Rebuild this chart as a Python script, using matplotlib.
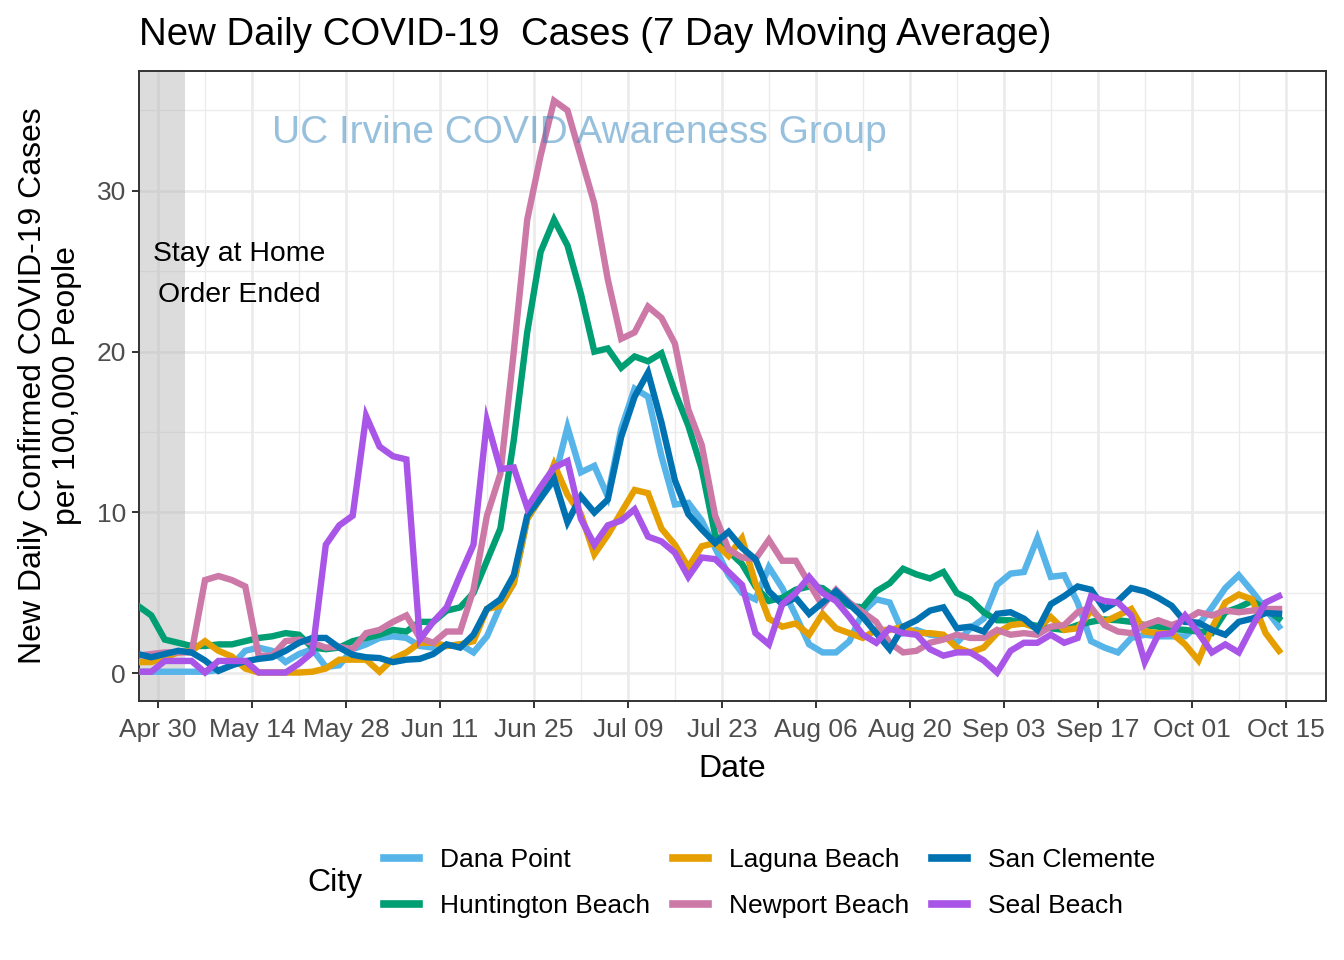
import matplotlib
matplotlib.use('Agg')
import matplotlib.pyplot as plt
import matplotlib.dates as mdates
from matplotlib.lines import Line2D
import pandas as pd

plt.rcParams['font.family'] = ['Liberation Sans', 'DejaVu Sans']

# 7 day moving average, read every 2 days from Apr 27
dates = pd.date_range('2020-04-27', periods=86, freq='2D')

dana_point = [0.1, 0.1, 0.1, 0.1, 0.1, 0.1, 0.2, 0.5, 1.4, 1.6,
              1.4, 0.7, 1.2, 1.5, 0.4, 0.5, 1.5, 1.8, 2.2, 2.3,
              2.2, 1.7, 1.6, 1.7, 1.8, 1.3, 2.3, 4.2, 5.6, 9.6,
              10.9, 12.0, 15.3, 12.5, 12.9, 11.0, 15.2, 17.7, 17.2, 13.5,
              10.5, 10.6, 9.5, 7.8, 6.1, 5.0, 4.6, 6.6, 5.3, 3.6,
              1.8, 1.3, 1.3, 2.0, 3.8, 4.6, 4.4, 2.5, 2.7, 2.4,
              2.3, 1.9, 2.8, 3.4, 5.5, 6.2, 6.3, 8.4, 6.0, 6.1,
              4.4, 2.0, 1.6, 1.3, 2.2, 2.4, 2.3, 2.3, 2.3, 3.0,
              4.1, 5.3, 6.1, 5.1, 4.0, 2.9]
huntington_beach = [4.2, 3.6, 2.1, 1.9, 1.7, 1.7, 1.8, 1.8, 2.0, 2.2,
                    2.3, 2.5, 2.4, 1.6, 1.5, 1.6, 2.0, 2.2, 2.4, 2.7,
                    2.6, 3.2, 3.2, 3.9, 4.1, 5.0, 7.0, 9.0, 14.5, 21.2,
                    26.2, 28.2, 26.6, 23.6, 20.0, 20.2, 19.0, 19.7, 19.4, 19.9,
                    17.5, 15.4, 12.7, 8.6, 7.6, 6.8, 5.4, 4.5, 4.7, 5.2,
                    5.4, 5.3, 4.7, 4.2, 4.1, 5.1, 5.6, 6.5, 6.15, 5.9,
                    6.3, 5.0, 4.6, 3.8, 3.3, 3.3, 3.1, 2.95, 2.8, 2.7,
                    3.0, 3.2, 3.35, 3.3, 3.2, 3.0, 2.9, 2.75, 2.7, 2.6,
                    2.5, 3.8, 4.1, 4.5, 4.0, 3.4]
laguna_beach = [0.7, 0.7, 1.0, 1.3, 1.4, 2.0, 1.4, 1.05, 0.3, 0.05,
                0.05, 0.05, 0.05, 0.1, 0.3, 0.85, 0.85, 0.85, 0.1, 0.9,
                1.3, 1.9, 1.9, 1.7, 1.8, 2.0, 4.0, 4.2, 5.6, 9.6,
                10.9, 13.0, 11.1, 9.9, 7.4, 8.6, 10.0, 11.4, 11.2, 9.0,
                8.0, 6.6, 7.9, 8.1, 7.3, 8.4, 5.6, 3.4, 2.9, 3.1,
                2.4, 3.7, 2.8, 2.5, 2.2, 2.7, 2.7, 2.9, 2.5, 2.5,
                2.4, 1.6, 1.3, 1.6, 2.5, 3.0, 3.1, 2.8, 3.5, 2.7,
                2.8, 3.9, 3.2, 3.6, 4.0, 2.6, 2.5, 2.5, 1.8, 0.8,
                2.8, 4.4, 4.9, 4.6, 2.5, 1.4]
newport_beach = [1.1, 1.2, 1.3, 1.3, 1.3, 5.8, 6.05, 5.8, 5.4, 1.1,
                 1.1, 2.0, 2.1, 1.9, 1.6, 1.65, 1.5, 2.5, 2.7, 3.2,
                 3.6, 2.2, 1.9, 2.6, 2.6, 5.2, 9.8, 12.4, 20.0, 28.2,
                 32.2, 35.6, 35.0, 32.1, 29.2, 24.5, 20.8, 21.2, 22.8, 22.1,
                 20.5, 16.4, 14.2, 9.8, 7.7, 7.2, 7.1, 8.3, 7.0, 7.0,
                 5.6, 4.2, 5.2, 4.4, 3.8, 3.2, 1.9, 1.3, 1.4, 1.9,
                 2.1, 2.4, 2.2, 2.2, 2.7, 2.4, 2.5, 2.4, 2.9, 3.0,
                 3.8, 4.1, 3.0, 2.6, 2.5, 3.0, 3.3, 3.0, 3.3, 3.8,
                 3.6, 3.9, 3.8, 3.9, 4.0, 4.0]
san_clemente = [1.2, 1.0, 1.2, 1.4, 1.3, 0.8, 0.15, 0.5, 0.75, 0.9,
                1.0, 1.4, 1.9, 2.2, 2.2, 1.6, 1.15, 1.0, 0.95, 0.7,
                0.85, 0.9, 1.2, 1.8, 1.6, 2.4, 4.0, 4.6, 6.1, 9.8,
                10.9, 12.1, 9.4, 11.0, 10.0, 10.8, 14.7, 17.2, 18.7, 15.6,
                12.0, 9.9, 8.95, 8.1, 8.8, 7.8, 7.1, 5.1, 4.3, 4.7,
                3.7, 4.4, 5.1, 4.3, 3.5, 2.5, 1.5, 2.9, 3.3, 3.9,
                4.1, 2.8, 2.9, 2.6, 3.7, 3.8, 3.4, 2.7, 4.3, 4.8,
                5.4, 5.2, 4.0, 4.5, 5.3, 5.1, 4.7, 4.2, 3.2, 3.15,
                2.7, 2.4, 3.2, 3.4, 3.75, 3.7]
seal_beach = [0.1, 0.1, 0.77, 0.77, 0.77, 0.05, 0.77, 0.77, 0.77, 0.05,
              0.05, 0.05, 0.6, 1.3, 8.0, 9.2, 9.8, 16.0, 14.1, 13.5,
              13.3, 2.1, 3.2, 4.1, 6.1, 8.0, 15.7, 12.7, 12.8, 10.3,
              11.6, 12.8, 13.2, 9.6, 8.0, 9.2, 9.5, 10.2, 8.5, 8.2,
              7.5, 6.0, 7.2, 7.1, 6.3, 5.5, 2.5, 1.8, 4.3, 5.0,
              6.0, 5.0, 4.5, 3.5, 2.4, 1.9, 2.8, 2.5, 2.4, 1.5,
              1.1, 1.3, 1.3, 0.8, 0.05, 1.4, 1.9, 1.9, 2.4, 1.9,
              2.2, 4.8, 4.5, 4.4, 3.6, 0.7, 2.4, 2.5, 3.6, 2.5,
              1.3, 1.8, 1.3, 2.9, 4.4, 4.8]

cities = ['Dana Point', 'Huntington Beach', 'Laguna Beach',
          'Newport Beach', 'San Clemente', 'Seal Beach']
series = [dana_point, huntington_beach, laguna_beach,
          newport_beach, san_clemente, seal_beach]
colors = ['#56B4E9', '#009E73', '#E69F00', '#CC79A7', '#0072B2', '#A855E8']

tick_dates = pd.date_range('2020-04-30', '2020-10-15', freq='14D')
y_ticks = [0, 10, 20, 30]

W, H = 1344, 960
fig = plt.figure(figsize=(W / 100, H / 100), dpi=100)
ax = fig.add_axes([139 / W, 259 / H, 1187 / W, 630 / H])

for vals, c in zip(series, colors):
    ax.plot(dates, vals, color=c, lw=4.6, solid_joinstyle='miter', zorder=3)

# stay at home order shading
ax.axvspan(pd.Timestamp('2020-04-20'), pd.Timestamp('2020-05-04'),
           color='#b3b3b3', alpha=0.45, lw=0, zorder=2)
ax.text(pd.Timestamp('2020-05-12 02:00'), 24.8, 'Stay at Home\nOrder Ended',
        ha='center', va='center', fontsize=20.4, linespacing=1.78, zorder=4)
ax.text(pd.Timestamp('2020-07-01 20:00'), 33.6, 'UC Irvine COVID Awareness Group',
        ha='center', va='center', fontsize=28, color='#3182bd', alpha=0.5, zorder=5)

ax.set_xlim(pd.Timestamp('2020-04-27 04:00'), pd.Timestamp('2020-10-21'))
ax.set_ylim(-1.72, 37.45)
ax.set_xticks(tick_dates)
ax.set_xticks(tick_dates[:-1] + pd.Timedelta(days=7), minor=True)
ax.xaxis.set_major_formatter(mdates.DateFormatter('%b %d'))
ax.set_yticks(y_ticks)
ax.set_yticks([5, 15, 25, 35], minor=True)

ax.set_axisbelow(True)
ax.grid(which='major', color='#EBEBEB', lw=1.9)
ax.grid(which='minor', color='#EBEBEB', lw=0.95)
for s in ax.spines.values():
    s.set_color('#333333')
    s.set_linewidth(1.4)
ax.tick_params(which='major', length=5.3, width=1.4, color='#333333',
               labelcolor='#4D4D4D', labelsize=19, pad=4)
ax.tick_params(axis='x', which='major', pad=7)
ax.tick_params(which='minor', length=0)

fig.text(139 / W, 1 - 35 / H, 'New Daily COVID-19  Cases (7 Day Moving Average)',
         fontsize=27.6, ha='left', va='center')
fig.text(732.5 / W, 1 - 769 / H, 'Date', fontsize=23, ha='center', va='center')
fig.text(50 / W, 1 - 386 / H, 'New Daily Confirmed COVID-19 Cases\nper 100,000 People',
         fontsize=23, rotation=90, ha='center', va='center', multialignment='center',
         linespacing=1.2)

handles = [Line2D([], [], color=c, lw=5.5) for c in colors]
fig.legend(handles, cities, loc='center left', bbox_to_anchor=(384 / W, 1 - 883 / H),
           ncol=3, frameon=False, fontsize=19, borderpad=0, borderaxespad=0,
           handlelength=1.33, handletextpad=0.8, columnspacing=0.86, labelspacing=0.84)
fig.text(307 / W, 1 - 883 / H, 'City', fontsize=23, ha='left', va='center')

fig.savefig('out.png', dpi=100)
